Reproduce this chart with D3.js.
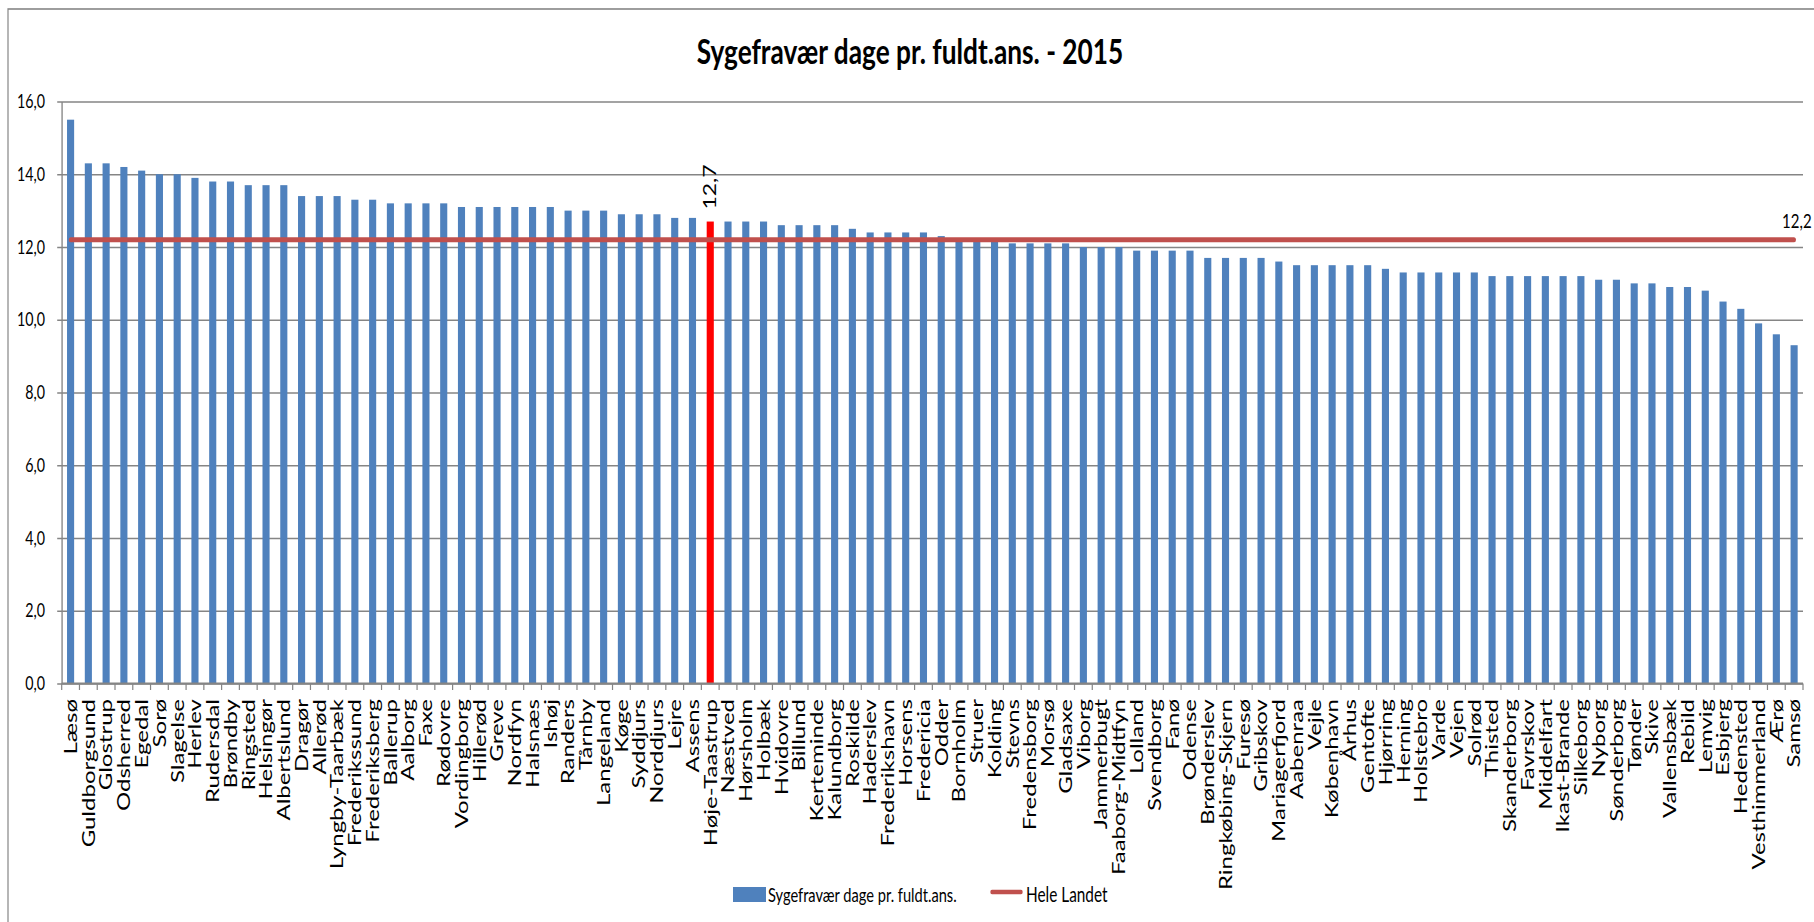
<!DOCTYPE html>
<html>
<head>
<meta charset="utf-8">
<script src="https://cdn.jsdelivr.net/npm/d3@7"></script>
<style>
  html, body { margin: 0; padding: 0; background: #fff; }
  text { font-family: Lato, "Open Sans", sans-serif; fill: #000; }
</style>
</head>
<body>
<div id="chart"></div>
<script>
// Municipalities, sorted as in the chart
const municipalities = [
  "Læsø", "Guldborgsund", "Glostrup", "Odsherred", "Egedal", "Sorø", "Slagelse", "Herlev", "Rudersdal", "Brøndby",
  "Ringsted", "Helsingør", "Albertslund", "Dragør", "Allerød", "Lyngby-Taarbæk", "Frederikssund", "Frederiksberg", "Ballerup", "Aalborg",
  "Faxe", "Rødovre", "Vordingborg", "Hillerød", "Greve", "Nordfyn", "Halsnæs", "Ishøj", "Randers", "Tårnby",
  "Langeland", "Køge", "Syddjurs", "Norddjurs", "Lejre", "Assens", "Høje-Taastrup", "Næstved", "Hørsholm", "Holbæk",
  "Hvidovre", "Billund", "Kerteminde", "Kalundborg", "Roskilde", "Haderslev", "Frederikshavn", "Horsens", "Fredericia", "Odder",
  "Bornholm", "Struer", "Kolding", "Stevns", "Fredensborg", "Morsø", "Gladsaxe", "Viborg", "Jammerbugt", "Faaborg-Midtfyn",
  "Lolland", "Svendborg", "Fanø", "Odense", "Brønderslev", "Ringkøbing-Skjern", "Furesø", "Gribskov", "Mariagerfjord", "Aabenraa",
  "Vejle", "København", "Århus", "Gentofte", "Hjørring", "Herning", "Holstebro", "Varde", "Vejen", "Solrød",
  "Thisted", "Skanderborg", "Favrskov", "Middelfart", "Ikast-Brande", "Silkeborg", "Nyborg", "Sønderborg", "Tønder", "Skive",
  "Vallensbæk", "Rebild", "Lemvig", "Esbjerg", "Hedensted", "Vesthimmerland", "Ærø", "Samsø"
];

// Sygefravær dage pr. fuldt.ans.
const sickDays = [
  15.5, 14.3, 14.3, 14.2, 14.1, 14.0, 14.0, 13.9, 13.8, 13.8,
  13.7, 13.7, 13.7, 13.4, 13.4, 13.4, 13.3, 13.3, 13.2, 13.2,
  13.2, 13.2, 13.1, 13.1, 13.1, 13.1, 13.1, 13.1, 13.0, 13.0,
  13.0, 12.9, 12.9, 12.9, 12.8, 12.8, 12.7, 12.7, 12.7, 12.7,
  12.6, 12.6, 12.6, 12.6, 12.5, 12.4, 12.4, 12.4, 12.4, 12.3,
  12.2, 12.2, 12.15, 12.1, 12.1, 12.1, 12.1, 12.0, 12.0, 12.0,
  11.9, 11.9, 11.9, 11.9, 11.7, 11.7, 11.7, 11.7, 11.6, 11.5,
  11.5, 11.5, 11.5, 11.5, 11.4, 11.3, 11.3, 11.3, 11.3, 11.3,
  11.2, 11.2, 11.2, 11.2, 11.2, 11.2, 11.1, 11.1, 11.0, 11.0,
  10.9, 10.9, 10.8, 10.5, 10.3, 9.9, 9.6, 9.3
];

// Hele Landet (national average)
const nationalAvg = 12.2;
const highlighted = "Høje-Taastrup";
const yTicks = [0, 2, 4, 6, 8, 10, 12, 14, 16];

const width = 1814;
const height = 922;
const squeeze = 0.75;          // the original picture is horizontally compressed
const X = v => v / squeeze;     // screen x -> inner x

const margin = { top: 101.5, right: 1803, bottom: 683.5, left: 61.7 };

const fmt = d3.formatLocale({ decimal: ",", thousands: ".", grouping: [3], currency: ["", " kr."] }).format(".1f");

const svg = d3.select("#chart")
  .append("svg")
  .attr("width", width)
  .attr("height", height);

const g = svg.append("g").attr("transform", `scale(${squeeze},1)`);

// chart border
g.append("rect")
  .attr("x", X(8))
  .attr("y", 9)
  .attr("width", X(width + 20))
  .attr("height", height + 20)
  .attr("fill", "#fff")
  .attr("stroke", "#868686")
  .attr("stroke-width", 1.6);

const x = d3.scaleBand()
  .domain(municipalities)
  .range([X(margin.left), X(margin.right)])
  .paddingInner(0.6)
  .paddingOuter(0.3);

const y = d3.scaleLinear()
  .domain([0, 16])
  .range([margin.bottom, margin.top]);

// gridlines + y ticks
const yAxis = g.append("g")
  .attr("transform", `translate(${X(margin.left)},0)`)
  .call(d3.axisLeft(y)
    .tickValues(yTicks)
    .tickSizeInner(-(X(margin.right) - X(margin.left)))
    .tickSizeOuter(0)
    .tickFormat(""));
yAxis.select(".domain").attr("stroke", "#858585").attr("stroke-width", 1.8);
yAxis.selectAll(".tick line")
  .attr("x1", -X(4.5))
  .attr("stroke", "#858585")
  .attr("stroke-width", 1.7);

// y tick labels
g.append("g")
  .selectAll("text")
  .data(yTicks)
  .enter()
  .append("text")
  .attr("x", X(45))
  .attr("y", d => y(d))
  .attr("dy", "0.35em")
  .attr("text-anchor", "end")
  .style("font-size", "19px")
  .text(d => fmt(d));

// x ticks at band boundaries
const half = x.step() * x.paddingInner() / 2;
const boundaries = municipalities.map(d => x(d) - half).concat([X(margin.right)]);
g.append("g")
  .selectAll("line")
  .data(boundaries)
  .enter()
  .append("line")
  .attr("x1", d => d)
  .attr("x2", d => d)
  .attr("y1", margin.bottom)
  .attr("y2", margin.bottom + 6.5)
  .attr("stroke", "#858585")
  .attr("stroke-width", 1.6);

// bars
g.append("g")
  .selectAll("rect")
  .data(municipalities)
  .enter()
  .append("rect")
  .attr("x", d => x(d))
  .attr("y", (d, i) => y(sickDays[i]))
  .attr("width", x.bandwidth())
  .attr("height", (d, i) => y(0) - y(sickDays[i]))
  .attr("fill", d => d === highlighted ? "#ff0000" : "#4f81bd");

// label on the highlighted bar
const hi = municipalities.indexOf(highlighted);
g.append("text")
  .attr("transform", `translate(${x(highlighted) + x.bandwidth() / 2},${y(sickDays[hi]) - 12}) rotate(-90)`)
  .attr("dy", "0.35em")
  .attr("text-anchor", "start")
  .style("font-size", "23px")
  .text(fmt(sickDays[hi]));

// axis line on baseline
g.append("line")
  .attr("x1", X(margin.left))
  .attr("x2", X(margin.right))
  .attr("y1", y(0))
  .attr("y2", y(0))
  .attr("stroke", "#858585")
  .attr("stroke-width", 1.8);

// national average line
const line = d3.line()
  .x(d => x(d) + x.bandwidth() / 2)
  .y(() => y(nationalAvg));
g.append("path")
  .datum(municipalities)
  .attr("d", line)
  .attr("fill", "none")
  .attr("stroke", "#c0504d")
  .attr("stroke-width", 5)
  .attr("stroke-linecap", "round");

const last = municipalities[municipalities.length - 1];
g.append("text")
  .attr("x", x(last) + x.bandwidth() / 2 - X(12))
  .attr("y", y(nationalAvg) - 12)
  .style("font-size", "20px")
  .text(fmt(nationalAvg));

// x labels
g.append("g")
  .selectAll("text")
  .data(municipalities)
  .enter()
  .append("text")
  .attr("transform", d => `translate(${x(d) + x.bandwidth() / 2},699) rotate(-90)`)
  .attr("dy", "0.35em")
  .attr("text-anchor", "end")
  .style("font-size", "24px")
  .text(d => d);

// title
g.append("text")
  .attr("x", X(910))
  .attr("y", 64)
  .attr("text-anchor", "middle")
  .style("font-size", "35px")
  .style("font-weight", "bold")
  .text("Sygefravær dage pr. fuldt.ans. - 2015");

// legend
const legend = g.append("g");
legend.append("rect")
  .attr("x", X(733))
  .attr("y", 887)
  .attr("width", X(33))
  .attr("height", 15)
  .attr("fill", "#4f81bd");
legend.append("text")
  .attr("x", X(768))
  .attr("y", 902)
  .style("font-size", "19.5px")
  .text("Sygefravær dage pr. fuldt.ans.");
legend.append("line")
  .attr("x1", X(992))
  .attr("x2", X(1021))
  .attr("y1", 892)
  .attr("y2", 892)
  .attr("stroke", "#c0504d")
  .attr("stroke-width", 4.5)
  .attr("stroke-linecap", "round");
legend.append("text")
  .attr("x", X(1026))
  .attr("y", 902)
  .style("font-size", "20.5px")
  .text("Hele Landet");
</script>
</body>
</html>
